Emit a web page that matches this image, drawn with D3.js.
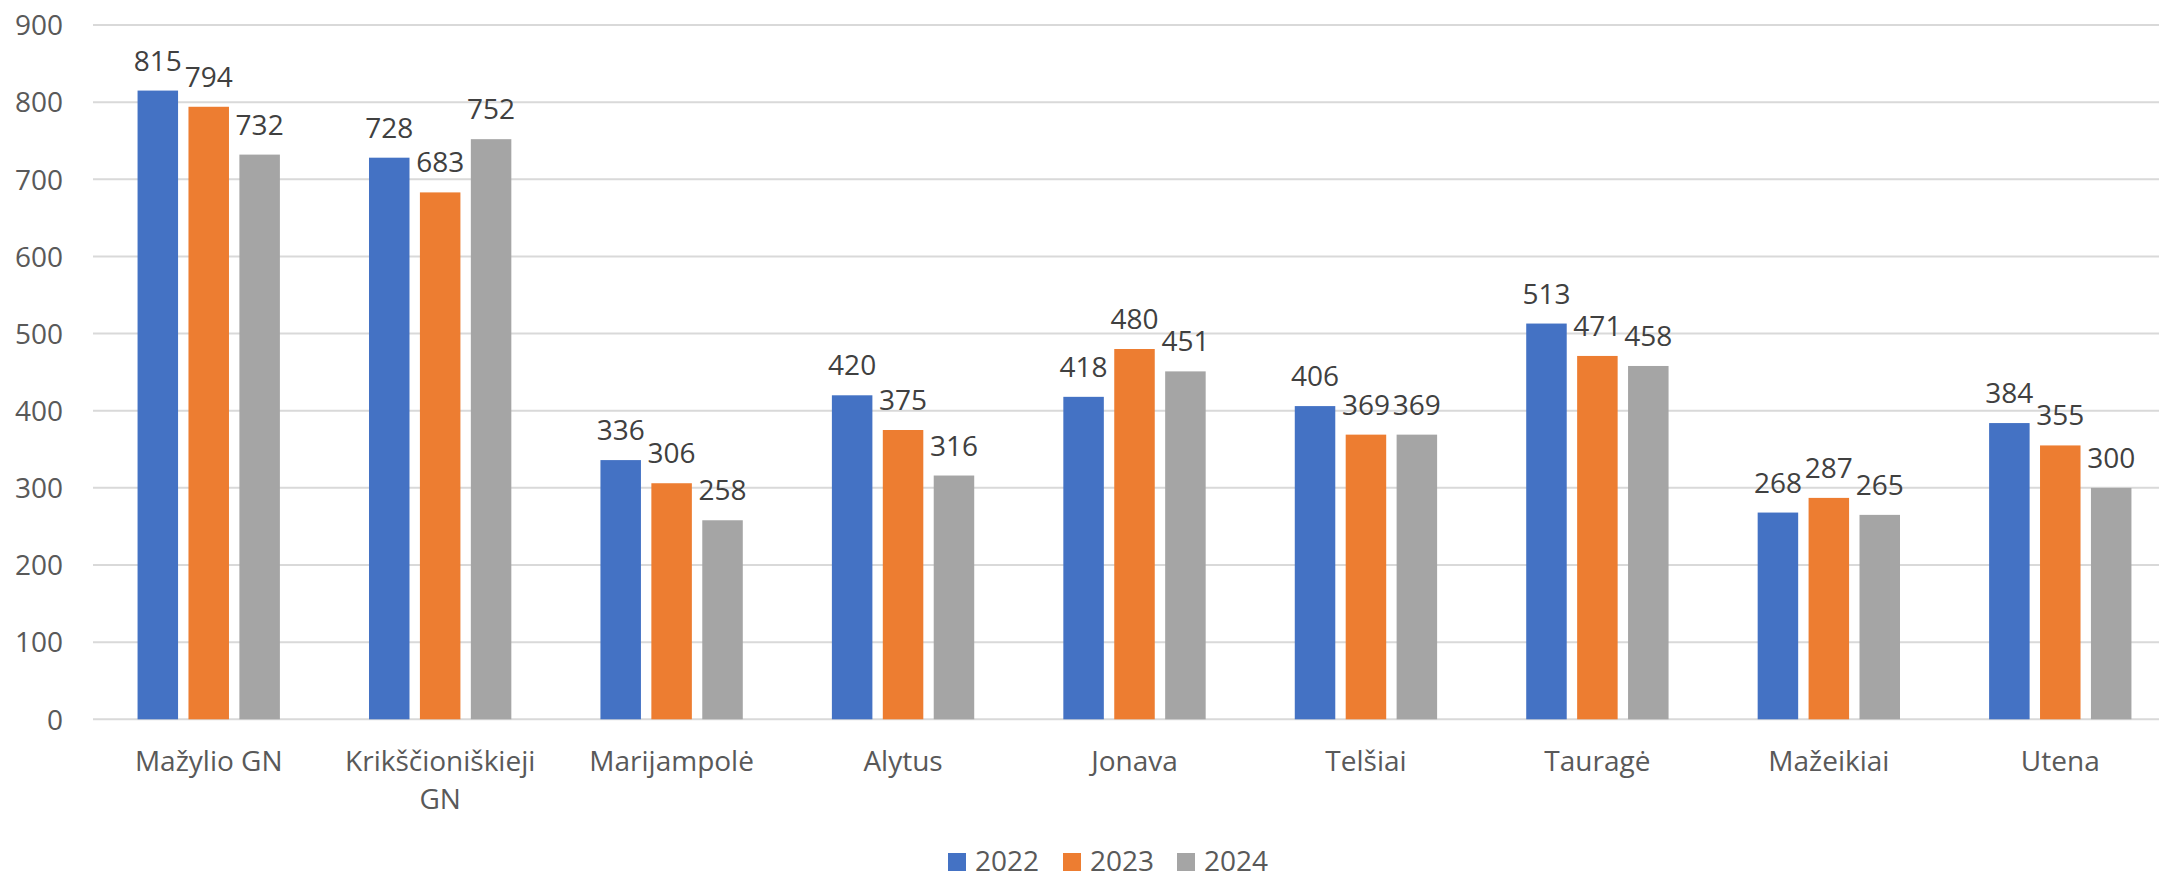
<!DOCTYPE html>
<html><head><meta charset="utf-8">
<script src="https://cdn.jsdelivr.net/npm/d3@7"></script>
<style>html,body{margin:0;padding:0;background:#fff;overflow:hidden}</style>
</head><body>
<svg id="c" width="2159" height="875"></svg>
<script>
const categories = ["Mažylio GN","Krikščioniškieji GN","Marijampolė","Alytus","Jonava","Telšiai","Tauragė","Mažeikiai","Utena"];
const seriesNames = ["2022","2023","2024"];
const v2022 = [815,728,336,420,418,406,513,268,384];
const v2023 = [794,683,306,375,480,369,471,287,355];
const v2024 = [732,752,258,316,451,369,458,265,300];
const yTicks = [0,100,200,300,400,500,600,700,800,900];
const colors = ["#4472C4","#ED7D31","#A5A5A5"];

(function(){
const series = [v2022,v2023,v2024];
const FONT = "'Open Sans', 'Noto Sans', sans-serif";
const FS = 28;
const svg = d3.select("#c");
const pLeft = 93, pRight = 2176, pTop = 25, pBottom = 719.3;

const x = d3.scaleBand().domain(categories).range([pLeft,pRight]).paddingInner(0).paddingOuter(0);
const step = x.bandwidth();
const barW = step*0.175, barStep = step*0.22;
const y = d3.scaleLinear().domain([0,900]).range([pBottom,pTop]);

svg.append("g").selectAll("line").data(yTicks).join("line")
  .attr("x1",pLeft).attr("x2",pRight)
  .attr("y1",d=>y(d)).attr("y2",d=>y(d))
  .attr("stroke","#D9D9D9").attr("stroke-width",2);

const yAxis = d3.axisLeft(y).tickValues(yTicks).tickSize(0).tickPadding(0).tickFormat(d3.format("d"));
const ya = svg.append("g").attr("transform",`translate(${pLeft-30},0)`).call(yAxis);
ya.select(".domain").remove();
ya.selectAll("text").attr("font-family",FONT).attr("font-size",FS).attr("fill","#595959").attr("dy","0.35em");

series.forEach((vals,si)=>{
  const g = svg.append("g");
  g.selectAll("rect").data(categories).join("rect")
    .attr("x",(c)=>x(c)+step/2+(si-1)*barStep-barW/2)
    .attr("width",barW)
    .attr("y",(c,i)=>y(vals[i]))
    .attr("height",(c,i)=>y(0)-y(vals[i]))
    .attr("fill",colors[si]);
  g.selectAll("text").data(categories).join("text")
    .attr("x",(c)=>x(c)+step/2+(si-1)*barStep)
    .attr("y",(c,i)=>y(vals[i])-20)
    .attr("text-anchor","middle")
    .attr("font-family",FONT).attr("font-size",FS).attr("fill","#404040")
    .text((c,i)=>vals[i]);
});

const xAxis = d3.axisBottom(x).tickSize(0).tickPadding(0);
const xa = svg.append("g").attr("transform",`translate(0,${pBottom})`).call(xAxis);
xa.select(".domain").remove();
xa.selectAll("text").attr("font-family",FONT).attr("font-size",FS).attr("fill","#595959")
  .attr("y",51.5).attr("dy",0)
  .each(function(){
    const t = d3.select(this);
    const words = t.text().split(/\s+/);
    t.text(null);
    let line = [];
    let ts = t.append("tspan").attr("x",0).attr("dy",0);
    words.forEach(w=>{
      line.push(w);
      ts.text(line.join(" "));
      if (ts.node().getComputedTextLength() > step*0.92 && line.length>1){
        line.pop(); ts.text(line.join(" "));
        line=[w];
        ts = t.append("tspan").attr("x",0).attr("dy",38.7).text(w);
      }
    });
  });

const legX = [948,1063,1177];
const lg = svg.append("g");
seriesNames.forEach((n,i)=>{
  lg.append("rect").attr("x",legX[i]).attr("y",853).attr("width",18).attr("height",18).attr("fill",colors[i]);
  lg.append("text").attr("x",legX[i]+27).attr("y",870.5).attr("font-family",FONT).attr("font-size",FS).attr("fill","#595959").text(n);
});
})();
</script>
</body></html>
